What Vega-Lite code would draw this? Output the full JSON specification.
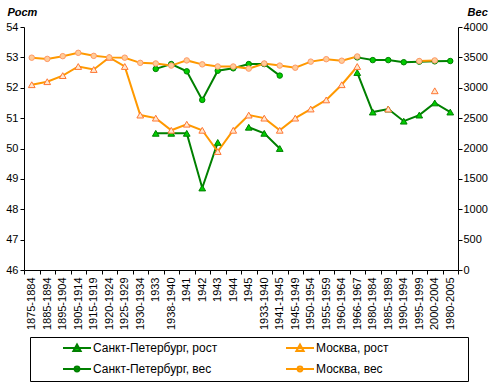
{
 "$schema": "https://vega.github.io/schema/vega-lite/v6.json",
 "width": 434, "height": 243,
 "autosize": {"type": "none"},
 "padding": {"left": 24, "top": 27, "right": 35, "bottom": 120},
 "background": "white",
 "config": {
  "view": {"stroke": null},
  "font": "Liberation Sans",
  "axis": {"labelFont": "Liberation Sans", "labelColor": "black", "domainColor": "black", "tickColor": "black", "grid": false, "labelFontSize": 11, "titleColor": "black", "titleFont": "Liberation Sans"}
 },
 "data": {"values": [
  {"c":"1933","s":"Санкт-Петербург, рост","k":"h","v":50.5},
  {"c":"1938-1940","s":"Санкт-Петербург, рост","k":"h","v":50.5},
  {"c":"1941","s":"Санкт-Петербург, рост","k":"h","v":50.5},
  {"c":"1942","s":"Санкт-Петербург, рост","k":"h","v":48.7},
  {"c":"1943","s":"Санкт-Петербург, рост","k":"h","v":50.2},
  {"c":"1944","s":"Санкт-Петербург, рост","k":"h","v":null},
  {"c":"1945","s":"Санкт-Петербург, рост","k":"h","v":50.7},
  {"c":"1933-1940","s":"Санкт-Петербург, рост","k":"h","v":50.5},
  {"c":"1941-1945","s":"Санкт-Петербург, рост","k":"h","v":50.0},
  {"c":"1945-1949","s":"Санкт-Петербург, рост","k":"h","v":null},
  {"c":"1966-1967","s":"Санкт-Петербург, рост","k":"h","v":52.5},
  {"c":"1980-1984","s":"Санкт-Петербург, рост","k":"h","v":51.2},
  {"c":"1985-1989","s":"Санкт-Петербург, рост","k":"h","v":51.3},
  {"c":"1990-1994","s":"Санкт-Петербург, рост","k":"h","v":50.9},
  {"c":"1995-1999","s":"Санкт-Петербург, рост","k":"h","v":51.1},
  {"c":"2000-2004","s":"Санкт-Петербург, рост","k":"h","v":51.5},
  {"c":"1980-2005","s":"Санкт-Петербург, рост","k":"h","v":51.2},
  {"c":"1875-1884","s":"Москва, рост","k":"h","v":52.1},
  {"c":"1885-1894","s":"Москва, рост","k":"h","v":52.2},
  {"c":"1895-1904","s":"Москва, рост","k":"h","v":52.4},
  {"c":"1905-1914","s":"Москва, рост","k":"h","v":52.7},
  {"c":"1915-1919","s":"Москва, рост","k":"h","v":52.6},
  {"c":"1920-1924","s":"Москва, рост","k":"h","v":53.0},
  {"c":"1925-1929","s":"Москва, рост","k":"h","v":52.7},
  {"c":"1930-1934","s":"Москва, рост","k":"h","v":51.1},
  {"c":"1933","s":"Москва, рост","k":"h","v":51.0},
  {"c":"1938-1940","s":"Москва, рост","k":"h","v":50.6},
  {"c":"1941","s":"Москва, рост","k":"h","v":50.8},
  {"c":"1942","s":"Москва, рост","k":"h","v":50.6},
  {"c":"1943","s":"Москва, рост","k":"h","v":49.9},
  {"c":"1944","s":"Москва, рост","k":"h","v":50.6},
  {"c":"1945","s":"Москва, рост","k":"h","v":51.1},
  {"c":"1933-1940","s":"Москва, рост","k":"h","v":51.0},
  {"c":"1941-1945","s":"Москва, рост","k":"h","v":50.6},
  {"c":"1945-1949","s":"Москва, рост","k":"h","v":51.0},
  {"c":"1950-1954","s":"Москва, рост","k":"h","v":51.3},
  {"c":"1955-1959","s":"Москва, рост","k":"h","v":51.6},
  {"c":"1960-1964","s":"Москва, рост","k":"h","v":52.1},
  {"c":"1966-1967","s":"Москва, рост","k":"h","v":52.7},
  {"c":"1980-1984","s":"Москва, рост","k":"h","v":null},
  {"c":"1985-1989","s":"Москва, рост","k":"h","v":51.3},
  {"c":"1990-1994","s":"Москва, рост","k":"h","v":null},
  {"c":"2000-2004","s":"Москва, рост","k":"h","v":51.9},
  {"c":"1933","s":"Санкт-Петербург, вес","k":"w","v":3310},
  {"c":"1938-1940","s":"Санкт-Петербург, вес","k":"w","v":3390},
  {"c":"1941","s":"Санкт-Петербург, вес","k":"w","v":3270},
  {"c":"1942","s":"Санкт-Петербург, вес","k":"w","v":2800},
  {"c":"1943","s":"Санкт-Петербург, вес","k":"w","v":3280},
  {"c":"1944","s":"Санкт-Петербург, вес","k":"w","v":3320},
  {"c":"1945","s":"Санкт-Петербург, вес","k":"w","v":3390},
  {"c":"1933-1940","s":"Санкт-Петербург, вес","k":"w","v":3390},
  {"c":"1941-1945","s":"Санкт-Петербург, вес","k":"w","v":3200},
  {"c":"1945-1949","s":"Санкт-Петербург, вес","k":"w","v":null},
  {"c":"1966-1967","s":"Санкт-Петербург, вес","k":"w","v":3500},
  {"c":"1980-1984","s":"Санкт-Петербург, вес","k":"w","v":3455},
  {"c":"1985-1989","s":"Санкт-Петербург, вес","k":"w","v":3455},
  {"c":"1990-1994","s":"Санкт-Петербург, вес","k":"w","v":3420},
  {"c":"1995-1999","s":"Санкт-Петербург, вес","k":"w","v":3430},
  {"c":"2000-2004","s":"Санкт-Петербург, вес","k":"w","v":3435},
  {"c":"1980-2005","s":"Санкт-Петербург, вес","k":"w","v":3440},
  {"c":"1875-1884","s":"Москва, вес","k":"w","v":3495},
  {"c":"1885-1894","s":"Москва, вес","k":"w","v":3475},
  {"c":"1895-1904","s":"Москва, вес","k":"w","v":3520},
  {"c":"1905-1914","s":"Москва, вес","k":"w","v":3575},
  {"c":"1915-1919","s":"Москва, вес","k":"w","v":3525},
  {"c":"1920-1924","s":"Москва, вес","k":"w","v":3500},
  {"c":"1925-1929","s":"Москва, вес","k":"w","v":3495},
  {"c":"1930-1934","s":"Москва, вес","k":"w","v":3410},
  {"c":"1933","s":"Москва, вес","k":"w","v":3400},
  {"c":"1938-1940","s":"Москва, вес","k":"w","v":3365},
  {"c":"1941","s":"Москва, вес","k":"w","v":3450},
  {"c":"1942","s":"Москва, вес","k":"w","v":3385},
  {"c":"1943","s":"Москва, вес","k":"w","v":3350},
  {"c":"1944","s":"Москва, вес","k":"w","v":3350},
  {"c":"1945","s":"Москва, вес","k":"w","v":3315},
  {"c":"1933-1940","s":"Москва, вес","k":"w","v":3400},
  {"c":"1941-1945","s":"Москва, вес","k":"w","v":3365},
  {"c":"1945-1949","s":"Москва, вес","k":"w","v":3330},
  {"c":"1950-1954","s":"Москва, вес","k":"w","v":3430},
  {"c":"1955-1959","s":"Москва, вес","k":"w","v":3470},
  {"c":"1960-1964","s":"Москва, вес","k":"w","v":3445},
  {"c":"1966-1967","s":"Москва, вес","k":"w","v":3515},
  {"c":"1980-1984","s":"Москва, вес","k":"w","v":null},
  {"c":"1995-1999","s":"Москва, вес","k":"w","v":3440},
  {"c":"2000-2004","s":"Москва, вес","k":"w","v":3450}
 ]},
 "encoding": {
  "x": {"field": "c", "type": "nominal", "title": null,
   "scale": {"type": "band", "paddingInner": 0, "paddingOuter": 0, "domain": ["1875-1884","1885-1894","1895-1904","1905-1914","1915-1919","1920-1924","1925-1929","1930-1934","1933","1938-1940","1941","1942","1943","1944","1945","1933-1940","1941-1945","1945-1949","1950-1954","1955-1959","1960-1964","1966-1967","1980-1984","1985-1989","1990-1994","1995-1999","2000-2004","1980-2005"]},
   "axis": {"labelAngle": 270, "labelFontSize": 11, "tickBand": "extent", "tickSize": 4, "labelPadding": 3, "labelLimit": 200}}
 },
 "layer": [
  {"transform": [{"filter": "datum.k == 'h'"}],
   "encoding": {"y": {"field": "v", "type": "quantitative", "scale": {"domain": [46, 54], "nice": false, "zero": false},
     "axis": {"orient": "left", "values": [46,47,48,49,50,51,52,53,54], "tickSize": 4, "labelPadding": 2, "title": "Рост", "titleAngle": 0, "titleX": -17, "titleY": -15, "titleAlign": "left", "titleBaseline": "middle", "titleFontWeight": "bold", "titleFontStyle": "italic", "titleFontSize": 11}}},
   "layer": [
    {"mark": {"type": "line", "strokeWidth": 2, "invalid": "break-paths-filter-domains"},
     "encoding": {"color": {"field": "s", "type": "nominal",
       "scale": {"domain": ["Санкт-Петербург, рост","Санкт-Петербург, вес","Москва, рост","Москва, вес"], "range": ["#008000","#008000","#FF9900","#FF9900"]},
       "legend": {"orient": "none", "legendX": 6, "legendY": 310, "columns": 2, "title": " ", "titleOrient": "right", "titlePadding": 75,
        "strokeColor": "black", "padding": 5, "symbolOffset": 36, "columnPadding": 40, "rowPadding": 7,
        "labelFontSize": 12, "labelFont": "Liberation Sans", "labelColor": "black", "labelLimit": 300, "labelOffset": 10,
        "symbolSize": 100, "symbolStrokeWidth": 2,
        "encode": {"symbols": {"update": {
          "shape": {"signal": "indexof(datum.value,'рост')>=0 ? 'M-2.8,0H2.8M0,-0.72L0.72,0.56L-0.72,0.56Z' : 'M-2.8,0H2.8M0.48,0A0.48,0.48,0,1,1,-0.48,0A0.48,0.48,0,1,1,0.48,0Z'"},
          "fill": {"signal": "indexof(datum.value,'Санкт')>=0 ? '#00CC00' : (indexof(datum.value,'рост')>=0 ? '#FFE8D0' : '#FFCC99')"},
          "stroke": {"signal": "indexof(datum.value,'Санкт')>=0 ? '#008000' : '#FF9900'"},
          "strokeWidth": {"value": 2},
          "opacity": {"value": 1}
        }}}}}}},
    {"mark": {"type": "point", "shape": "triangle-up", "filled": true, "size": 45, "strokeWidth": 1, "opacity": 1},
     "transform": [{"filter": "isValid(datum.v)"}],
     "encoding": {
      "fill": {"field": "s", "type": "nominal", "legend": null, "scale": {"domain": ["Санкт-Петербург, рост","Санкт-Петербург, вес","Москва, рост","Москва, вес"], "range": ["#00CC00","#00CC00","#FFE8D0","#FFCC99"]}},
      "stroke": {"field": "s", "type": "nominal", "legend": null, "scale": {"domain": ["Санкт-Петербург, рост","Санкт-Петербург, вес","Москва, рост","Москва, вес"], "range": ["#008000","#008000","#FF7733","#FF9966"]}}}}
   ]},
  {"transform": [{"filter": "datum.k == 'w'"}],
   "encoding": {"y": {"field": "v", "type": "quantitative", "scale": {"domain": [0, 4000], "nice": false},
     "axis": {"orient": "right", "values": [0,500,1000,1500,2000,2500,3000,3500,4000], "format": "d", "tickSize": 4, "labelPadding": 1, "title": "Вес", "titleAngle": 0, "titleX": 9, "titleY": -15, "titleAlign": "left", "titleBaseline": "middle", "titleFontWeight": "bold", "titleFontStyle": "italic", "titleFontSize": 11}}},
   "layer": [
    {"mark": {"type": "line", "strokeWidth": 2, "invalid": "break-paths-filter-domains"},
     "encoding": {"color": {"field": "s", "type": "nominal"}}},
    {"mark": {"type": "point", "shape": "circle", "filled": true, "size": 30, "strokeWidth": 1, "opacity": 1},
     "transform": [{"filter": "isValid(datum.v)"}],
     "encoding": {
      "fill": {"field": "s", "type": "nominal", "legend": null},
      "stroke": {"field": "s", "type": "nominal", "legend": null}}}
   ]}
 ],
 "resolve": {"scale": {"y": "independent"}}
}
